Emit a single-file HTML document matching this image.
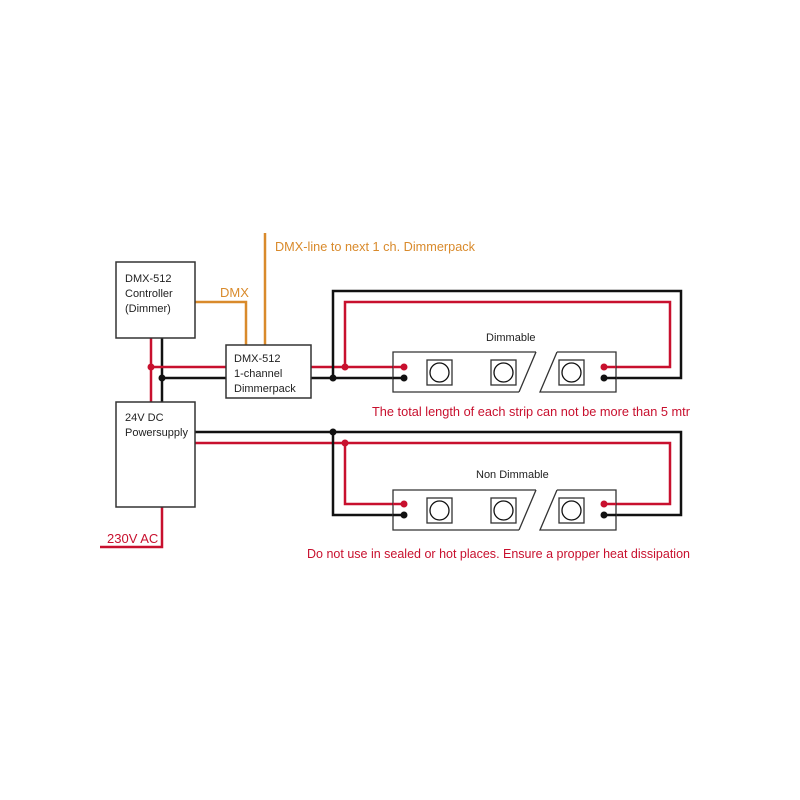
<!DOCTYPE html>
<html><head><style>body{margin:0;background:#fff}svg{display:block}text{font-family:"Liberation Sans",sans-serif}</style></head><body>
<svg width="800" height="800" viewBox="0 0 800 800" xmlns="http://www.w3.org/2000/svg">
<g fill="none" stroke-width="2.5">
<path d="M195 302H246V345" stroke="#d98a2b"/>
<path d="M265 233V345" stroke="#d98a2b"/>
<path d="M151 338V402" stroke="#c8102e"/>
<path d="M162 338V402" stroke="#111"/>
<path d="M151 367H226" stroke="#c8102e"/>
<path d="M162 378H226" stroke="#111"/>
<path d="M311 367H403" stroke="#c8102e"/>
<path d="M311 378H403" stroke="#111"/>
<path d="M333 378V291H681V378H604" stroke="#111"/>
<path d="M345 367V302H670V367H604" stroke="#c8102e"/>
<path d="M195 432H681V515H604" stroke="#111"/>
<path d="M195 443H670V504H604" stroke="#c8102e"/>
<path d="M333 432V515H403" stroke="#111"/>
<path d="M345 443V504H403" stroke="#c8102e"/>
<path d="M162 507V547H100" stroke="#c8102e"/>
</g>
<g fill="#fff" stroke="#333" stroke-width="1.5">
<rect x="116" y="262" width="79" height="76"/>
<rect x="226" y="345" width="85" height="53"/>
<rect x="116" y="402" width="79" height="105"/>
</g>
<g fill="none" stroke="#333" stroke-width="1.3">
<path d="M536 352H393V392H519Z" fill="#fff" stroke="none"/>
<path d="M536 352H393V392H519"/>
<path d="M536 352L519 392"/>
<path d="M557 352H616V392H540Z" fill="#fff" stroke="none"/>
<path d="M557 352L540 392H616V352H557"/>
<rect x="427" y="360" width="25" height="25"/><circle cx="439.5" cy="372.5" r="9.5" stroke="#111"/>
<rect x="491" y="360" width="25" height="25"/><circle cx="503.5" cy="372.5" r="9.5" stroke="#111"/>
<rect x="559" y="360" width="25" height="25"/><circle cx="571.5" cy="372.5" r="9.5" stroke="#111"/>
<path d="M536 490H393V530H519Z" fill="#fff" stroke="none"/>
<path d="M536 490H393V530H519"/>
<path d="M536 490L519 530"/>
<path d="M557 490H616V530H540Z" fill="#fff" stroke="none"/>
<path d="M557 490L540 530H616V490H557"/>
<rect x="427" y="498" width="25" height="25"/><circle cx="439.5" cy="510.5" r="9.5" stroke="#111"/>
<rect x="491" y="498" width="25" height="25"/><circle cx="503.5" cy="510.5" r="9.5" stroke="#111"/>
<rect x="559" y="498" width="25" height="25"/><circle cx="571.5" cy="510.5" r="9.5" stroke="#111"/>
</g>
<g stroke-width="2.5"><path d="M393 367H403M604 367H616M393 504H403M604 504H616" stroke="#c8102e"/><path d="M393 378H403M604 378H616M393 515H403M604 515H616" stroke="#111"/></g>
<g fill="#c8102e"><circle cx="151" cy="367" r="3.5"/><circle cx="345" cy="367" r="3.5"/><circle cx="345" cy="443" r="3.5"/><circle cx="404" cy="367" r="3.5"/><circle cx="604" cy="367" r="3.5"/><circle cx="404" cy="504" r="3.5"/><circle cx="604" cy="504" r="3.5"/></g>
<g fill="#111"><circle cx="162" cy="378" r="3.5"/><circle cx="333" cy="378" r="3.5"/><circle cx="333" cy="432" r="3.5"/><circle cx="404" cy="378" r="3.5"/><circle cx="604" cy="378" r="3.5"/><circle cx="404" cy="515" r="3.5"/><circle cx="604" cy="515" r="3.5"/></g>
<g font-size="11" fill="#222">
<text x="125" y="282">DMX-512</text><text x="125" y="297">Controller</text><text x="125" y="312">(Dimmer)</text>
<text x="234" y="362">DMX-512</text><text x="234" y="377">1-channel</text><text x="234" y="392">Dimmerpack</text>
<text x="125" y="421">24V DC</text><text x="125" y="436">Powersupply</text>
<text x="486" y="341">Dimmable</text><text x="476" y="478">Non Dimmable</text>
</g>
<g font-size="13" fill="#d98a2b"><text x="275" y="251" textLength="200" lengthAdjust="spacingAndGlyphs">DMX-line to next 1 ch. Dimmerpack</text><text x="220" y="297">DMX</text></g>
<g font-size="13" fill="#c8102e">
<text x="372" y="416" textLength="318" lengthAdjust="spacingAndGlyphs">The total length of each strip can not be more than 5 mtr</text>
<text x="307" y="558" textLength="383" lengthAdjust="spacingAndGlyphs">Do not use in sealed or hot places. Ensure a propper heat dissipation</text>
<text x="107" y="543">230V AC</text>
</g>
</svg>
</body></html>
